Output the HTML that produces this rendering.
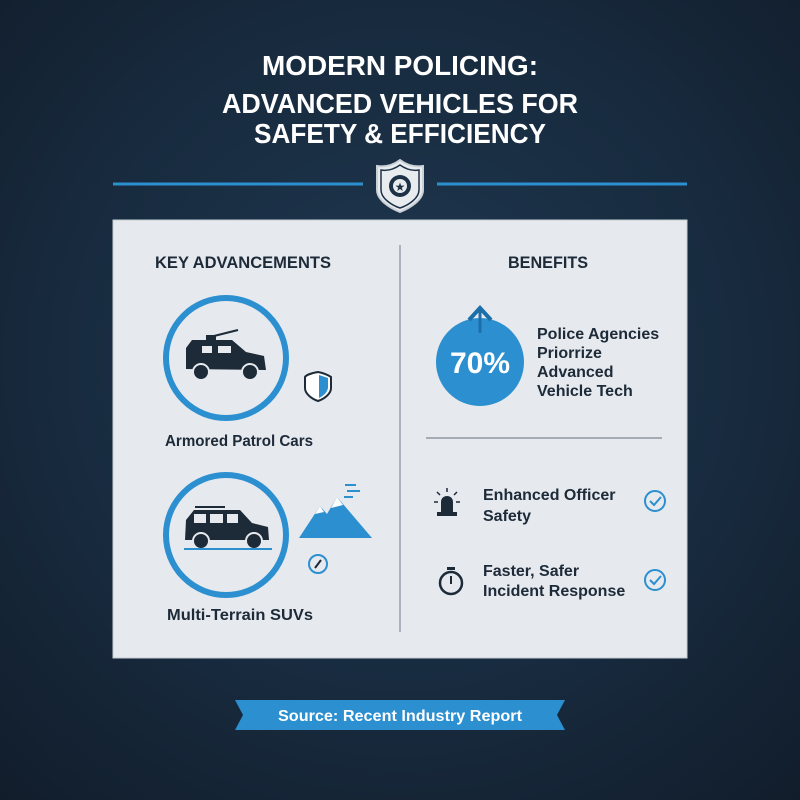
<!DOCTYPE html>
<html><head><meta charset="utf-8"><style>
body{margin:0;width:800px;height:800px;overflow:hidden;font-family:"Liberation Sans",sans-serif;}
#bg{position:absolute;left:0;top:0;width:800px;height:800px;background:radial-gradient(circle at 50% 45%,#1f3850 0%,#182b3f 55%,#111d2b 100%);}
</style></head><body>
<div id="bg"></div>
<svg width="800" height="800" style="position:absolute;left:0;top:0">
<g fill="#fff" font-weight="bold" font-size="28" text-anchor="middle" font-family="Liberation Sans, sans-serif">
<text x="400" y="75" textLength="276" lengthAdjust="spacingAndGlyphs">MODERN POLICING:</text>
<text x="400" y="113" textLength="356" lengthAdjust="spacingAndGlyphs">ADVANCED VEHICLES FOR</text>
<text x="400" y="143" textLength="292" lengthAdjust="spacingAndGlyphs">SAFETY &amp; EFFICIENCY</text>
</g>
<line x1="113" y1="184" x2="363" y2="184" stroke="#2b8fd0" stroke-width="3"/>
<line x1="437" y1="184" x2="687" y2="184" stroke="#2b8fd0" stroke-width="3"/>
<g>
<path d="M400 160 C392 166 384 167 377 166 L377 190 C377 200 390 208 400 212 C410 208 423 200 423 190 L423 166 C416 167 408 166 400 160Z" fill="#e8ecef" stroke="#c9d0d6" stroke-width="2"/>
<path d="M400 165 C393 170 387 171 381 170 L381 190 C381 198 391 205 400 208 C409 205 419 198 419 190 L419 170 C413 171 407 170 400 165Z" fill="none" stroke="#1d3147" stroke-width="1.5"/>
<circle cx="400" cy="186" r="11" fill="#1d3147"/><circle cx="400" cy="186" r="7" fill="#e8ecef"/>
<text x="400" y="191" text-anchor="middle" font-size="12" fill="#1d3147">★</text>
</g>
<rect x="113" y="220" width="574" height="438" fill="#e6e9ee" stroke="#c5ccd4"/>
<line x1="400" y1="245" x2="400" y2="632" stroke="#9aa3ad" stroke-width="1.5"/>
<g font-family="Liberation Sans, sans-serif" font-weight="bold" fill="#1d2a38">
<text x="243" y="268" text-anchor="middle" font-size="17" textLength="176" lengthAdjust="spacingAndGlyphs">KEY ADVANCEMENTS</text>
<text x="548" y="268" text-anchor="middle" font-size="17" textLength="80" lengthAdjust="spacingAndGlyphs">BENEFITS</text>
</g>
<g>
<circle cx="226" cy="358" r="60" fill="none" stroke="#2b8fd0" stroke-width="6"/>
<path d="M186 369 L186 348 L192 340 L232 340 L246 352 L264 356 L266 370 Z" fill="#1d2a38"/>
<rect x="206" y="335" width="10" height="6" fill="#1d2a38"/><line x1="214" y1="336" x2="238" y2="330" stroke="#1d2a38" stroke-width="2"/>
<rect x="202" y="346" width="10" height="7" fill="#e6e9ee"/><rect x="218" y="346" width="13" height="7" fill="#e6e9ee"/>
<circle cx="201" cy="372" r="8" fill="#1d2a38" stroke="#e6e9ee" stroke-width="2"/><circle cx="250" cy="372" r="8" fill="#1d2a38" stroke="#e6e9ee" stroke-width="2"/>
</g>
<g>
<path d="M318 372 C312 373 306 375 305 377 L305 388 C305 394 312 399 318 401 C324 399 331 394 331 388 L331 377 C328 375 323 373 318 372Z" fill="#fff" stroke="#1d2a38" stroke-width="2"/>
<path d="M319 375 L328 378 L328 388 C327 393 323 396 319 398Z" fill="#2b8fd0"/>
</g>
<text x="239" y="446" text-anchor="middle" font-size="16" textLength="148" lengthAdjust="spacingAndGlyphs" fill="#1d2a38" font-weight="bold" font-family="Liberation Sans, sans-serif">Armored Patrol Cars</text>
<g>
<circle cx="226" cy="535" r="60" fill="none" stroke="#2b8fd0" stroke-width="6"/>
<path d="M185 540 L186 520 L194 510 L240 510 L252 523 L268 527 L269 540 Z" fill="#1d2a38"/>
<line x1="195" y1="507" x2="225" y2="507" stroke="#1d2a38" stroke-width="2"/>
<rect x="194" y="514" width="12" height="9" fill="#e6e9ee"/><rect x="210" y="514" width="13" height="9" fill="#e6e9ee"/><rect x="227" y="514" width="11" height="9" fill="#e6e9ee"/>
<circle cx="201" cy="541" r="8" fill="#1d2a38" stroke="#e6e9ee" stroke-width="2"/><circle cx="254" cy="541" r="8" fill="#1d2a38" stroke="#e6e9ee" stroke-width="2"/>
<line x1="184" y1="549" x2="272" y2="549" stroke="#2b8fd0" stroke-width="2"/>
</g>
<g>
<path d="M299 538 L320 506 L327 514 L337 497 L372 538 Z" fill="#2b8fd0"/>
<path d="M320 506 L315 514 L324 512Z M337 497 L331 508 L343 505Z" fill="#fff"/>
<line x1="345" y1="485" x2="356" y2="485" stroke="#2b8fd0" stroke-width="2"/><line x1="347" y1="491" x2="360" y2="491" stroke="#2b8fd0" stroke-width="2"/><line x1="344" y1="497" x2="353" y2="497" stroke="#2b8fd0" stroke-width="2"/>
<circle cx="318" cy="564" r="9" fill="none" stroke="#2b8fd0" stroke-width="2"/><line x1="315" y1="568" x2="321" y2="560" stroke="#1d2a38" stroke-width="2"/>
</g>
<text x="240" y="620" text-anchor="middle" font-size="16" textLength="146" lengthAdjust="spacingAndGlyphs" fill="#1d2a38" font-weight="bold" font-family="Liberation Sans, sans-serif">Multi-Terrain SUVs</text>
<g>
<circle cx="480" cy="362" r="44" fill="#2b8fd0"/>
<path d="M469 320 L480 308 L491 320" fill="none" stroke="#1c6fa8" stroke-width="4"/><line x1="480" y1="310" x2="480" y2="333" stroke="#1c6fa8" stroke-width="3"/>
<text x="480" y="373" text-anchor="middle" font-size="30" font-weight="bold" fill="#fff" font-family="Liberation Sans, sans-serif">70%</text>
</g>
<g font-size="16" font-weight="bold" fill="#1d2a38" font-family="Liberation Sans, sans-serif">
<text x="537" y="339">Police Agencies</text><text x="537" y="358">Priorrize</text><text x="537" y="377">Advanced</text><text x="537" y="396">Vehicle Tech</text>
</g>
<line x1="426" y1="438" x2="662" y2="438" stroke="#8f98a2" stroke-width="1.5"/>
<g fill="#1d2a38" stroke="#1d2a38">
<path d="M441 512 L441 502 C441 494 453 494 453 502 L453 512Z" stroke="none"/><rect x="437" y="512" width="20" height="4" stroke="none"/>
<line x1="447" y1="488" x2="447" y2="492" stroke-width="1.5"/><line x1="437" y1="492" x2="440" y2="495" stroke-width="1.5"/><line x1="457" y1="492" x2="454" y2="495" stroke-width="1.5"/><line x1="434" y1="502" x2="438" y2="502" stroke-width="1.5"/><line x1="456" y1="502" x2="460" y2="502" stroke-width="1.5"/>
</g>
<g font-size="16" font-weight="bold" fill="#1d2a38" font-family="Liberation Sans, sans-serif">
<text x="483" y="500"><tspan x="483">Enhanced Officer</tspan><tspan x="483" dy="21">Safety</tspan></text>
<text x="483" y="576"><tspan x="483">Faster, Safer</tspan><tspan x="483" dy="20">Incident Response</tspan></text>
</g>
<g>
<circle cx="451" cy="583" r="11" fill="none" stroke="#1d2a38" stroke-width="2.5"/><rect x="447" y="567" width="8" height="3" fill="#1d2a38"/><line x1="451" y1="576" x2="451" y2="584" stroke="#1d2a38" stroke-width="2"/>
</g>
<g fill="none" stroke="#2b8fd0" stroke-width="2">
<circle cx="655" cy="501" r="10"/><path d="M650 501 L654 505 L661 497"/>
<circle cx="655" cy="580" r="10"/><path d="M650 580 L654 584 L661 576"/>
</g>
<g>
<path d="M235 700 L565 700 L557 715 L565 730 L235 730 L243 715 Z" fill="#2b8fd0"/>
<text x="400" y="721" text-anchor="middle" font-size="16" textLength="244" lengthAdjust="spacingAndGlyphs" font-weight="bold" fill="#fff" font-family="Liberation Sans, sans-serif">Source: Recent Industry Report</text>
</g>
</svg>
</body></html>
